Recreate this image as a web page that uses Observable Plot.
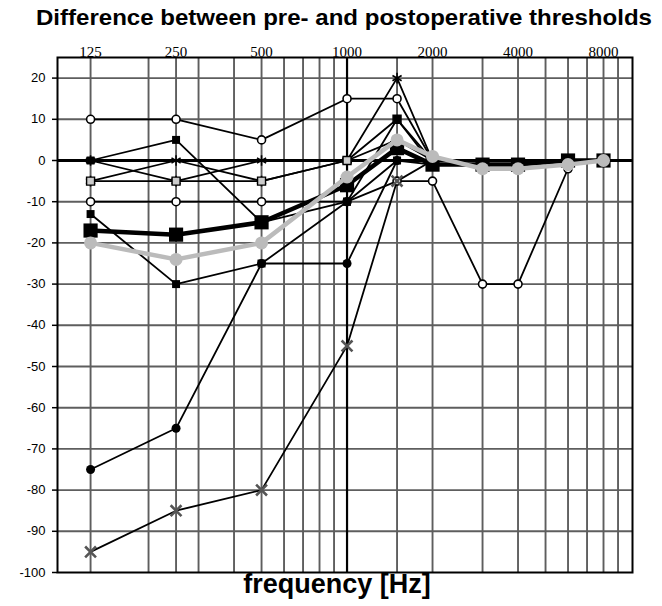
<!DOCTYPE html>
<html><head><meta charset="utf-8">
<script src="https://cdn.jsdelivr.net/npm/d3@7"></script>
<script src="https://cdn.jsdelivr.net/npm/@observablehq/plot@0.6"></script>
<style>body{margin:0;background:#fff}svg{display:block}</style>
</head><body>
<svg id="title" width="662" height="36"><text x="344" y="25" text-anchor="middle" font-family="Liberation Sans, Arial, sans-serif" font-weight="bold" font-size="22" textLength="616" lengthAdjust="spacingAndGlyphs">Difference between pre- and postoperative thresholds</text></svg>
<div id="chart"></div>
<script>
// frequencies (Hz) at which thresholds were measured
const freqs = [125, 250, 500, 1000, 1500, 2000, 3000, 4000, 6000, 8000];
// top axis tick labels
const topTicks = [125, 250, 500, 1000, 2000, 4000, 8000];
// y tick labels (dB)
const yTicks = [-100, -90, -80, -70, -60, -50, -40, -30, -20, -10, 0, 10, 20];
// vertical grid frequencies
const gridFreqs = [125, 200, 250, 300, 400, 500, 600, 700, 800, 900, 1500, 2000, 3000, 4000, 5000, 6000, 7000, 8000, 9000];
// horizontal grid values
const gridDb = [-90, -80, -70, -60, -50, -40, -30, -20, -10, 10, 20];

// individual patients (differences, dB)
const patA = [10, 10, 5, 15, 15, 0];
const patB = [-10, -10, -10, -10, -5, -5, -30, -30, -2];
const patC = [-95, -85, -80, -45, -5, 0];
const patD = [-75, -65, -25, -25, 0, -1];
const patE = [0, -5, 0, 0, 20, 0];
const patF = [-5, -5, -5, 0, 10, -1];
const patG = [0, 5, -15, -10, 10, 0];
const patH = [-13, -30, -25, -10, 0, 0];
const patI = [-5, 0, -5, 0, 5, 0];
// group means
const meanBlack = [-17, -18, -15, -6, 3, -1, -1, -1, 0, 0];
const meanGray = [-20, -24, -20, -4, 5, 1, -2, -2, -1, 0];

const patients = [
  {name: "A", vals: patA, kind: "openCircle"},
  {name: "B", vals: patB, kind: "openCircle"},
  {name: "C", vals: patC, kind: "times"},
  {name: "D", vals: patD, kind: "filledCircle"},
  {name: "E", vals: patE, kind: "asterisk"},
  {name: "F", vals: patF, kind: "graySquare"},
  {name: "G", vals: patG, kind: "filledSquare"},
  {name: "H", vals: patH, kind: "filledSquare"},
  {name: "I", vals: patI, kind: "asterisk"}
];
const rows = [];
for (const p of patients) p.vals.forEach((v, i) => { if (v != null) rows.push({name: p.name, kind: p.kind, f: freqs[i], v}); });
const blackRows = meanBlack.map((v, i) => ({f: freqs[i], v}));
const grayRows = meanGray.map((v, i) => ({f: freqs[i], v}));
const byKind = k => rows.filter(r => r.kind === k);

const chart = Plot.plot({
  width: 662, height: 570,
  marginTop: 21, marginBottom: 34, marginLeft: 57, marginRight: 30,
  x: {type: "log", domain: [95.6, 10120], axis: null},
  y: {domain: [-100, 25]},
  style: {background: "white", fontFamily: "Liberation Sans, Arial, sans-serif", color: "black"},
  marks: [
    Plot.ruleX(gridFreqs, {stroke: "#5e5e5e", strokeWidth: 1.9}),
    Plot.ruleY(gridDb, {stroke: "#5e5e5e", strokeWidth: 1.9}),
    Plot.ruleX([1000], {stroke: "#000", strokeWidth: 2.2}),
    Plot.ruleY([0], {stroke: "#000", strokeWidth: 3}),
    Plot.frame({stroke: "#000", strokeWidth: 2}),
    Plot.text(topTicks, {x: d => d, text: d => String(d), frameAnchor: "top", dy: -11, fontFamily: "Liberation Serif, Times New Roman, serif", fontSize: 15}),
    Plot.axisY({ticks: yTicks, tickFormat: d => String(d), tickSize: 5, tickPadding: 7, fontSize: 13, label: null, strokeWidth: 1.5}),
    Plot.line(rows, {x: "f", y: "v", z: "name", stroke: "#000", strokeWidth: 1.8}),
    Plot.dot(byKind("openCircle"), {x: "f", y: "v", r: 4, fill: "white", stroke: "#000", strokeWidth: 1.6}),
    Plot.dot(byKind("filledCircle"), {x: "f", y: "v", r: 4.5, fill: "#000"}),
    Plot.dot(byKind("times"), {x: "f", y: "v", symbol: "times", r: 5, stroke: "#555", strokeWidth: 2.6}),
    Plot.dot(byKind("asterisk"), {x: "f", y: "v", symbol: "asterisk", r: 5, stroke: "#000", strokeWidth: 1.6}),
    Plot.dot(byKind("graySquare"), {x: "f", y: "v", symbol: "square", r: 4.5, fill: "#ccc", stroke: "#000", strokeWidth: 1.4}),
    Plot.dot(byKind("filledSquare"), {x: "f", y: "v", symbol: "square", r: 4.5, fill: "#000"}),
    Plot.line(blackRows, {x: "f", y: "v", stroke: "#000", strokeWidth: 4.5}),
    Plot.dot(blackRows, {x: "f", y: "v", symbol: "square", r: 8, fill: "#000"}),
    Plot.line(grayRows, {x: "f", y: "v", stroke: "#bbb", strokeWidth: 4.5}),
    Plot.dot(grayRows, {x: "f", y: "v", symbol: "circle", r: 6.5, fill: "#bbb"}),
    Plot.text(["frequency [Hz]"], {text: d => d, frameAnchor: "bottom", dy: 20, dx: -8, fontSize: 27, fontWeight: "bold"})
  ]
});
document.getElementById("chart").appendChild(chart);
</script>
</body></html>
